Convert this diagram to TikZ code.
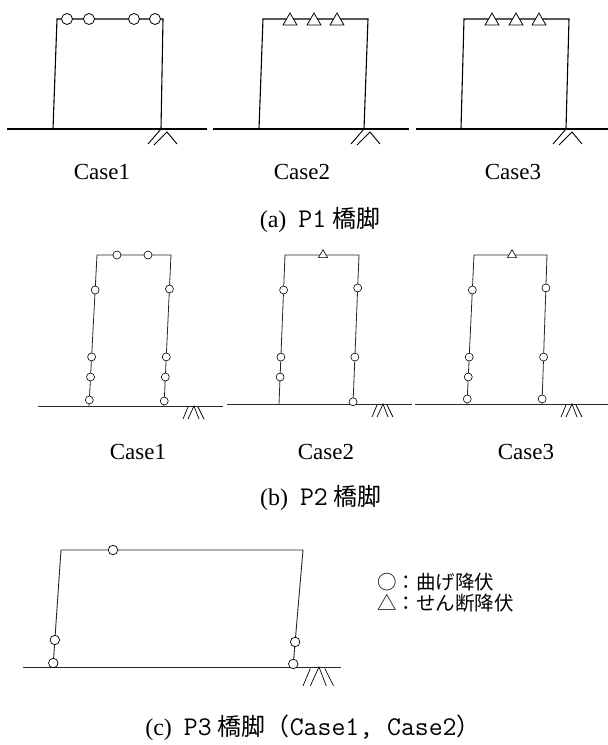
\documentclass[tikz,border=0pt]{standalone}
\usepackage{fontspec}
\setmainfont{Liberation Serif}
\newfontfamily\jpfont{Noto Sans CJK JP}
\newcommand{\monotext}[1]{{\ttfamily\fontsize{27}{28}\selectfont #1}}
\usetikzlibrary{positioning}
\usetikzlibrary{shapes.geometric}
\tikzstyle{frame}=[line width=1.1pt]
\tikzstyle{frameb}=[line width=0.8pt, black!85]
\tikzstyle{framec}=[line width=0.9pt, black!85]
\tikzstyle{ground}=[line width=1.6pt]
\tikzstyle{groundb}=[line width=1.0pt, black!85]
\tikzstyle{support}=[line width=0.9pt]
\tikzstyle{hinge}=[circle, draw, fill=white, inner sep=0pt, minimum size=11pt, line width=0.8pt]
\tikzstyle{hingeb}=[circle, draw, fill=white, inner sep=0pt, minimum size=8pt, line width=0.6pt]
\tikzstyle{hingec}=[circle, draw, fill=white, inner sep=0pt, minimum size=9.5pt, line width=0.7pt]
\tikzstyle{shear}=[regular polygon, regular polygon sides=3, draw, fill=white, inner sep=0pt, minimum size=16pt, line width=0.8pt]
\tikzstyle{shearb}=[regular polygon, regular polygon sides=3, draw, fill=white, inner sep=0pt, minimum size=10.5pt, line width=0.6pt]
\tikzstyle{casetext}=[font=\fontsize{23}{26}\selectfont]
\tikzstyle{figcap}=[font=\fontsize{24}{28}\selectfont]
\tikzstyle{legendtext}=[font=\jpfont\fontsize{19.5}{20}\selectfont, anchor=west, inner sep=0pt]
% fixed support marks
\newcommand{\suppa}[1]{%
  \begin{scope}[shift={(#1)}]
    \draw[support] (-13,15) -- (0,0);
    \draw[support] (-7,16) -- (6,3) -- (16,15);
  \end{scope}}
\newcommand{\suppb}[2]{%
  \begin{scope}[shift={(#1)}, scale=#2]
    \draw[support, line width=0.7pt] (-11,13) -- (-6,1);
    \draw[support, line width=0.7pt] (-6,13) -- (0,0) -- (5,13);
    \draw[support, line width=0.7pt] (4,1) -- (10,13);
  \end{scope}}
\begin{document}
\begin{tikzpicture}[x=1pt,y=-1pt]
    \useasboundingbox (0,0) rectangle (608,745);
    % (a) P1
    \coordinate (a1lt) at (57,19);
    \coordinate (a1rt) at (163,19);
    \coordinate (a1lb) at (53,129);
    \coordinate (a1rb) at (161,129);
    \coordinate (a2lt) at (263,19);
    \coordinate (a2rt) at (368,19);
    \coordinate (a2lb) at (259,129);
    \coordinate (a2rb) at (364,129);
    \coordinate (a3lt) at (464,19);
    \coordinate (a3rt) at (569,19);
    \coordinate (a3lb) at (461,129);
    \coordinate (a3rb) at (566,129);
    \coordinate (a1g0) at (7,129);
    \coordinate (a1g1) at (207,129);
    \coordinate (a2g0) at (213,129);
    \coordinate (a2g1) at (409,129);
    \coordinate (a3g0) at (416,129);
    \coordinate (a3g1) at (608,129);
    \foreach \c in {1,2,3} {
        \draw[frame] (a\c lb) -- (a\c lt) -- (a\c rt) -- (a\c rb);
        \draw[ground] (a\c g0) -- (a\c g1);
        \suppa{a\c rb}
    }
    \foreach \x [count=\i] in {67,89,134,155}
        \node[hinge] (a1h\i) at (\x,19) {};
    \foreach \x [count=\i] in {290,314,337}
        \node[shear] (a2s\i) at (\x,21) {};
    \foreach \x [count=\i] in {492,516,539}
        \node[shear] (a3s\i) at (\x,21) {};
    \node[casetext] (a1t) at (102,172) {Case1};
    \node[casetext] (a2t) at (302,172) {Case2};
    \node[casetext] (a3t) at (513,172) {Case3};
    \node[figcap] (acap) at (320,220) {(a)\hspace{.5em}\monotext{P1} {\jpfont 橋脚}};

    % (b) P2
    \coordinate (b1lt) at (97,255);
    \coordinate (b1rt) at (171,255);
    \coordinate (b1lb) at (89,406);
    \coordinate (b1rb) at (164,406);
    \coordinate (b2lt) at (285,255);
    \coordinate (b2rt) at (359,255);
    \coordinate (b2lb) at (279,404);
    \coordinate (b2rb) at (353,404);
    \coordinate (b3lt) at (474,255);
    \coordinate (b3rt) at (547,255);
    \coordinate (b3lb) at (467,404);
    \coordinate (b3rb) at (542,404);
    \coordinate (b1g0) at (38,406);
    \coordinate (b1g1) at (223,406);
    \coordinate (b2g0) at (227,404);
    \coordinate (b2g1) at (412,404);
    \coordinate (b3g0) at (415,404);
    \coordinate (b3g1) at (608,404);
    \coordinate (b1s) at (194,406);
    \coordinate (b2s) at (383,404);
    \coordinate (b3s) at (572,404);
    \foreach \c in {1,2,3} {
        \draw[frameb] (b\c lb) -- (b\c lt) -- (b\c rt) -- (b\c rb);
        \draw[groundb] (b\c g0) -- (b\c g1);
        \suppb{b\c s}{1}
    }
    \foreach \p [count=\i] in {.27,.689}
        \path (b1lt) -- node[hingeb,pos=\p] (b1h\i) {} (b1rt);
    \foreach \p [count=\i] in {.232,.675,.808,.96}
        \path (b1lt) -- node[hingeb,pos=\p] (b1l\i) {} (b1lb);
    \foreach \p [count=\i] in {.225,.675,.808,.967}
        \path (b1rt) -- node[hingeb,pos=\p] (b1r\i) {} (b1rb);
    \node[shearb] (b2s1) at (323,255) {};
    \foreach \p [count=\i] in {.235,.685,.819}
        \path (b2lt) -- node[hingeb,pos=\p] (b2l\i) {} (b2lb);
    \foreach \p [count=\i] in {.221,.685,.985}
        \path (b2rt) -- node[hingeb,pos=\p] (b2r\i) {} (b2rb);
    \node[shearb] (b3s1) at (512,255) {};
    \foreach \p [count=\i] in {.235,.685,.819,.966}
        \path (b3lt) -- node[hingeb,pos=\p] (b3l\i) {} (b3lb);
    \foreach \p [count=\i] in {.221,.685,.966}
        \path (b3rt) -- node[hingeb,pos=\p] (b3r\i) {} (b3rb);
    \node[casetext] (b1t) at (138,452) {Case1};
    \node[casetext] (b2t) at (326,452) {Case2};
    \node[casetext] (b3t) at (526,452) {Case3};
    \node[figcap] (bcap) at (321,498) {(b)\hspace{.5em}\monotext{P2} {\jpfont 橋脚}};

    % (c) P3
    \coordinate (clt) at (61,550);
    \coordinate (crt) at (303,550);
    \coordinate (clb) at (53,667);
    \coordinate (crb) at (293,667);
    \coordinate (cg0) at (23,667);
    \coordinate (cg1) at (341,667);
    \coordinate (cs) at (319,667);
    \draw[framec] (clb) -- (clt) -- (crt) -- (crb);
    \draw[groundb] (cg0) -- (cg1);
    \suppb{cs}{1.45}
    \node[hingec] (ch1) at (113,550) {};
    \foreach \p [count=\i] in {.769,.966}
        \path (clt) -- node[hingec,pos=\p] (cl\i) {} (clb);
    \foreach \p [count=\i] in {.786,.974}
        \path (crt) -- node[hingec,pos=\p] (cr\i) {} (crb);
    \node[legendtext] (leg1) at (377,582) {○：曲げ降伏};
    \node[legendtext] (leg2) at (377,603) {△：せん断降伏};
    \node[figcap] (ccap) at (313,728) {(c)\hspace{.5em}\monotext{P3} {\jpfont 橋脚（}\monotext{Case1, Case2}{\jpfont ）}};
\end{tikzpicture}
\end{document}
